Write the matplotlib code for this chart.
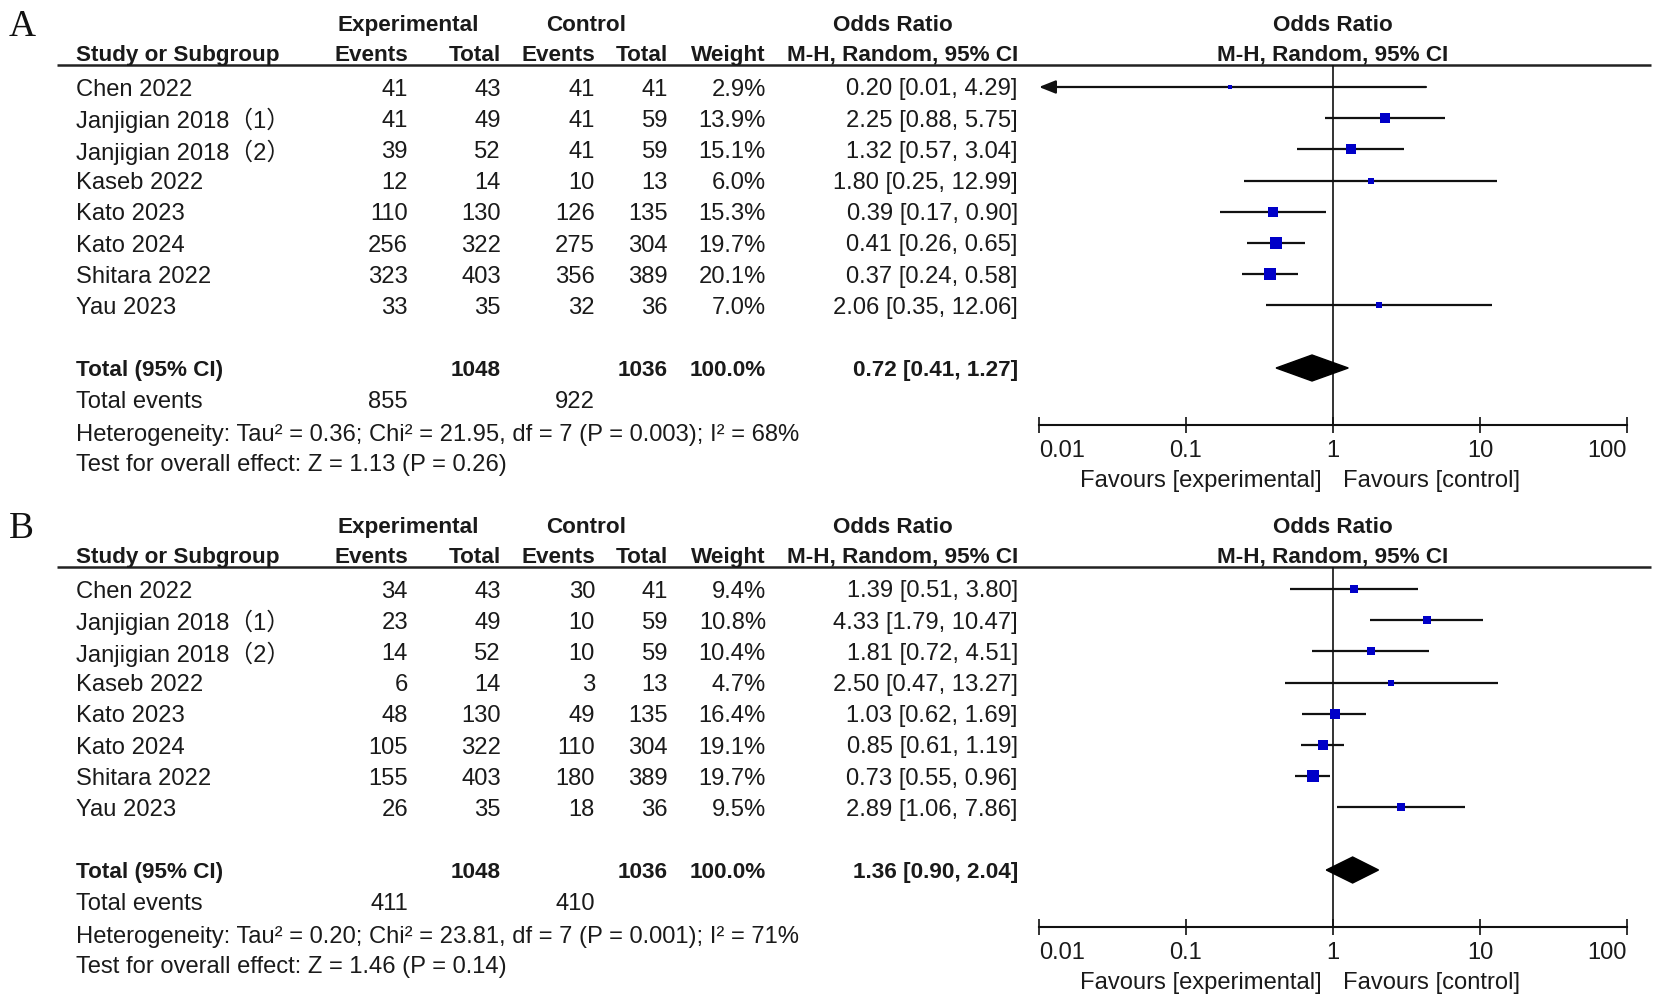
import numpy as np
import matplotlib
matplotlib.use("Agg")
import matplotlib.pyplot as plt
from matplotlib.ticker import NullLocator, FixedLocator

# ---------------- data ----------------
studies = ["Chen 2022", "Janjigian 2018（1）", "Janjigian 2018（2）", "Kaseb 2022",
           "Kato 2023", "Kato 2024", "Shitara 2022", "Yau 2023"]

# Panel A
a_exp_events = [41, 41, 39, 12, 110, 256, 323, 33]
a_exp_total = [43, 49, 52, 14, 130, 322, 403, 35]
a_ctl_events = [41, 41, 41, 10, 126, 275, 356, 32]
a_ctl_total = [41, 59, 59, 13, 135, 304, 389, 36]
a_weight = [2.9, 13.9, 15.1, 6.0, 15.3, 19.7, 20.1, 7.0]
a_or = [0.20, 2.25, 1.32, 1.80, 0.39, 0.41, 0.37, 2.06]
a_lo = [0.01, 0.88, 0.57, 0.25, 0.17, 0.26, 0.24, 0.35]
a_hi = [4.29, 5.75, 3.04, 12.99, 0.90, 0.65, 0.58, 12.06]
a_total = [1048, 1036]
a_total_events = [855, 922]
a_pooled = [0.72, 0.41, 1.27]
a_het = "Heterogeneity: Tau² = 0.36; Chi² = 21.95, df = 7 (P = 0.003); I² = 68%"
a_test = "Test for overall effect: Z = 1.13 (P = 0.26)"

# Panel B
b_exp_events = [34, 23, 14, 6, 48, 105, 155, 26]
b_exp_total = [43, 49, 52, 14, 130, 322, 403, 35]
b_ctl_events = [30, 10, 10, 3, 49, 110, 180, 18]
b_ctl_total = [41, 59, 59, 13, 135, 304, 389, 36]
b_weight = [9.4, 10.8, 10.4, 4.7, 16.4, 19.1, 19.7, 9.5]
b_or = [1.39, 4.33, 1.81, 2.50, 1.03, 0.85, 0.73, 2.89]
b_lo = [0.51, 1.79, 0.72, 0.47, 0.62, 0.61, 0.55, 1.06]
b_hi = [3.80, 10.47, 4.51, 13.27, 1.69, 1.19, 0.96, 7.86]
b_total = [1048, 1036]
b_total_events = [411, 410]
b_pooled = [1.36, 0.90, 2.04]
b_het = "Heterogeneity: Tau² = 0.20; Chi² = 23.81, df = 7 (P = 0.001); I² = 71%"
b_test = "Test for overall effect: Z = 1.46 (P = 0.14)"

axis_ticks = [0.01, 0.1, 1, 10, 100]
axis_labels = ["0.01", "0.1", "1", "10", "100"]

# ---------------- style ----------------
W, H = 1654, 999
FAM = ["Liberation Sans", "Noto Sans CJK SC", "DejaVu Sans"]
TXT = "#1a1a1a"
BLUE = "#0000c8"
FS = 17.1
FSB = 16.2
plt.rcParams["font.family"] = FAM

fig = plt.figure(figsize=(W / 100, H / 100), dpi=100)
ax = fig.add_axes([0, 0, 1, 1])
ax.set_xlim(0, W)
ax.set_ylim(H, 0)
ax.axis("off")

X_STUDY = 76
X_EE, X_ET, X_CE, X_CT, X_W, X_OR = 408, 501, 595, 668, 766, 1018
X_PLOT0, X_PLOT1, X_ONE = 1039, 1627, 1333


def t(x, y, s, ha="left", bold=False, **kw):
    ax.text(x, y, s, ha=ha, va="center_baseline", color=TXT,
            fontsize=FSB if bold else FS, fontweight="bold" if bold else "normal",
            family=FAM, **kw)


def panel(letter, dy, ee, et, ce, ct, wt, orv, lo, hi, tot, tev, pooled, het, test):
    ax.text(9, 27 + dy, letter, ha="left", va="center", fontsize=27,
            family=["Liberation Serif"], color="#111111")
    # headers
    y1, y2 = 23 + dy, 53 + dy
    t(408, y1, "Experimental", ha="center", bold=True)
    t(586.5, y1, "Control", ha="center", bold=True)
    t(892.5, y1, "Odds Ratio", ha="center", bold=True)
    t(X_ONE, y1, "Odds Ratio", ha="center", bold=True)
    t(X_STUDY, y2, "Study or Subgroup", bold=True)
    t(X_EE, y2, "Events", ha="right", bold=True)
    t(X_ET, y2, "Total", ha="right", bold=True)
    t(X_CE, y2, "Events", ha="right", bold=True)
    t(X_CT, y2, "Total", ha="right", bold=True)
    t(X_W, y2, "Weight", ha="right", bold=True)
    t(X_OR, y2, "M-H, Random, 95% CI", ha="right", bold=True)
    t(X_ONE, y2, "M-H, Random, 95% CI", ha="center", bold=True)
    line_y = 65 + dy
    ax.hlines(line_y, 57, 1651, color="#222222", lw=1.8)

    rows_y = [87 + 31.2 * i + dy for i in range(len(studies))]
    for i, y in enumerate(rows_y):
        t(X_STUDY, y, studies[i])
        t(X_EE, y, str(ee[i]), ha="right")
        t(X_ET, y, str(et[i]), ha="right")
        t(X_CE, y, str(ce[i]), ha="right")
        t(X_CT, y, str(ct[i]), ha="right")
        t(X_W, y, f"{wt[i]:.1f}%", ha="right")
        t(X_OR, y, f"{orv[i]:.2f} [{lo[i]:.2f}, {hi[i]:.2f}]", ha="right")

    y_tot, y_tev, y_het, y_test = 368 + dy, 400 + dy, 432 + dy, 462 + dy
    t(X_STUDY, y_tot, "Total (95% CI)", bold=True)
    t(X_ET, y_tot, str(tot[0]), ha="right", bold=True)
    t(X_CT, y_tot, str(tot[1]), ha="right", bold=True)
    t(X_W, y_tot, "100.0%", ha="right", bold=True)
    t(X_OR, y_tot, f"{pooled[0]:.2f} [{pooled[1]:.2f}, {pooled[2]:.2f}]", ha="right", bold=True)
    t(X_STUDY, y_tev, "Total events")
    t(X_EE, y_tev, str(tev[0]), ha="right")
    t(X_CE, y_tev, str(tev[1]), ha="right")
    t(X_STUDY, y_het, het)
    t(X_STUDY, y_test, test)

    # forest axes (log scale), y in pixel units
    y_axis = 425 + dy
    af = fig.add_axes([X_PLOT0 / W, 1 - y_axis / H, (X_PLOT1 - X_PLOT0) / W,
                       (y_axis - line_y) / H])
    af.set_xscale("log")
    af.set_xlim(axis_ticks[0], axis_ticks[-1])
    af.set_ylim(y_axis, line_y)
    af.patch.set_alpha(0)
    for s in ("top", "left", "right"):
        af.spines[s].set_visible(False)
    af.spines["bottom"].set_linewidth(1.5)
    af.spines["bottom"].set_color("#111111")
    af.set_yticks([])
    af.xaxis.set_major_locator(FixedLocator(axis_ticks))
    af.xaxis.set_minor_locator(NullLocator())
    af.set_xticklabels(axis_labels)
    af.tick_params(axis="x", direction="inout", length=12, width=1.2, pad=5,
                   labelsize=FS, labelcolor=TXT, color="#111111")
    labs = af.get_xticklabels()
    labs[0].set_horizontalalignment("left")
    labs[-1].set_horizontalalignment("right")
    af.axvline(1, color="#111111", lw=1.2, zorder=1)

    xmin = axis_ticks[0]
    for i, y in enumerate(rows_y):
        if lo[i] <= xmin:
            af.annotate("", xy=(xmin, y), xytext=(hi[i], y),
                        arrowprops=dict(arrowstyle="-|>,head_length=0.5,head_width=0.2",
                                        color="#111111", lw=1.6, mutation_scale=20,
                                        shrinkA=0, shrinkB=0), zorder=2)
        else:
            af.plot([lo[i], hi[i]], [y, y], color="#111111", lw=1.6,
                    solid_capstyle="butt", zorder=2)
        af.plot(orv[i], y, marker="s", ms=1.8 * np.sqrt(wt[i]), color=BLUE,
                mec=BLUE, mew=0, zorder=3, clip_on=False)
    h = 13
    af.fill([pooled[1], pooled[0], pooled[2], pooled[0]],
            [y_tot, y_tot - h, y_tot, y_tot + h], color="#000000", zorder=3)

    t(1322, 478 + dy, "Favours [experimental]", ha="right")
    t(1343, 478 + dy, "Favours [control]", ha="left")


panel("A", 0, a_exp_events, a_exp_total, a_ctl_events, a_ctl_total, a_weight,
      a_or, a_lo, a_hi, a_total, a_total_events, a_pooled, a_het, a_test)
panel("B", 502, b_exp_events, b_exp_total, b_ctl_events, b_ctl_total, b_weight,
      b_or, b_lo, b_hi, b_total, b_total_events, b_pooled, b_het, b_test)

fig.savefig("out.png", dpi=100, facecolor="white")
